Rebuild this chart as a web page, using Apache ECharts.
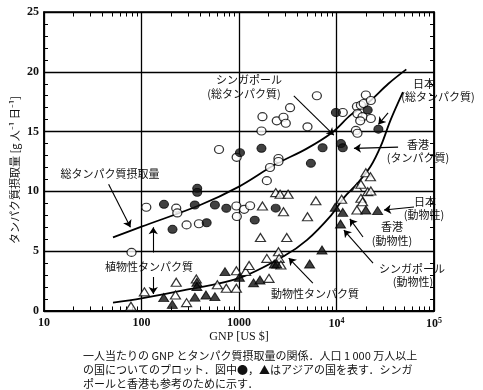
<!DOCTYPE html>
<html><head><meta charset="utf-8">
<script src="https://cdn.jsdelivr.net/npm/echarts@6/dist/echarts.min.js"></script>
<style>html,body{margin:0;padding:0;background:#fff}#c{width:483px;height:390px}</style>
</head><body><div id="c"></div>
<script>
// GNP [US$] vs protein intake [g/person/day]
const openCircles = [[79,4.9],[112,8.67],[227,8.6],[233,8.2],[290,7.2],[388,7.3],[624,13.5],[940,8.78],[950,7.9],[946,12.85],[1130,8.5],[1300,8.8],[1700,15.05],[1740,16.25],[1930,10.9],[2080,12.0],[2440,15.9],[2540,12.75],[2540,12.5],[2860,16.2],[3020,15.7],[3340,17.0],[5040,15.4],[6290,18.0],[11600,16.6],[15800,15.1],[16400,14.86],[16200,17.1],[17800,17.2],[19000,17.35],[20000,18.06],[22500,17.6],[16400,16.5],[18500,16.25],[22500,16.1],[17500,15.9]];
const filledCircles = [[170,8.92],[208,6.83],[352,8.86],[373,10.26],[373,9.92],[466,7.38],[566,8.86],[741,8.59],[1023,13.24],[1450,7.6],[1700,13.6],[2380,8.6],[5460,12.35],[7200,13.65],[9860,16.6],[11100,14.0],[11600,13.65],[20900,16.8],[26900,15.2]];
const openTriangles = [[78,0.4],[107,1.6],[223,1.34],[227,2.4],[290,0.7],[365,2.68],[600,2.2],[741,1.9],[940,3.37],[940,1.9],[1170,3.3],[1270,3.8],[1660,6.15],[1740,8.78],[1930,4.4],[2030,2.73],[2380,9.9],[2540,4.96],[2580,4.4],[2640,9.76],[2690,3.85],[2860,8.3],[3090,6.15],[3190,9.76],[5040,7.88],[6140,9.22],[11300,9.35],[16200,8.44],[16200,10.34],[17800,10.6],[17800,9.42],[18500,9.14],[20000,11.56],[20900,9.98],[22300,11.23],[22500,10.03]];
const filledTriangles = [[169,1.12],[207,0.55],[353,1.16],[370,2.4],[370,2.05],[458,1.34],[566,1.2],[718,3.29],[1010,2.82],[1410,2.35],[1640,2.59],[2300,3.93],[2440,3.93],[5300,3.93],[7100,5.1],[9700,8.68],[11600,8.25],[11000,7.27],[20000,8.44],[26400,8.39]];
const totalCurve = [[51,6.15],[100,7.05],[400,8.86],[1000,10.4],[2300,12.2],[5000,13.6],[9100,14.95],[14000,16.4],[21000,17.4],[34000,19.0],[52000,20.2]];
const animalCurve = [[51,0.7],[100,1.05],[300,1.8],[1000,2.75],[2900,4.6],[5000,5.95],[8800,8.0],[12000,9.5],[16500,10.7],[22400,12.1],[28500,13.8],[36000,16.0],[48000,18.3]];
const xTicks = [10,100,1000,10000,100000];
const yTicks = [0,5,10,15,20,25];
// annotation arrows, in data coordinates [GNP, intake]
const arrows = [
  [[3650,17.98],[9400,14.7]],
  [[33800,16.56],[26900,15.6]],
  [[42800,13.7],[15100,13.6]],
  [[46,10.6],[77,7.0]],
  [[132,4.9],[132,7.0]],
  [[132,2.84],[132,1.42]],
  [[5720,2.34],[3240,4.43]],
  [[62400,8.7],[30700,8.45]],
  [[18700,6.19],[13700,7.7]],
  [[23700,4.0],[11900,6.77]]
];

const minorX = [];
[10,100,1000,10000].forEach(d => { for (let k=2;k<=9;k++) minorX.push(k*d); });
const tickSegs = [];
minorX.forEach(v => { tickSegs.push({coords:[[v,0],[v,0.38]]}); tickSegs.push({coords:[[v,25],[v,24.62]]}); });

const JP = '"Noto Sans CJK JP", sans-serif';
const SERIF = '"Liberation Serif", "DejaVu Serif", serif';
const sup = {'4':'⁴','5':'⁵'};

function txt(x,y,s,extra){ return Object.assign({type:'text', x:x, y:y, style:{text:s, font:'11px '+JP, fill:'#111', textAlign:'center', textVerticalAlign:'middle'}}, extra||{}); }

const chart = echarts.init(document.getElementById('c'), null, {renderer:'canvas'});
const axisCommon = {
  axisLine:{show:true, lineStyle:{color:'#000', width:1.5}},
};
chart.setOption({
  animation:false,
  backgroundColor:'#fff',
  grid:{left:44, right:49, top:12, bottom:79, show:true, borderColor:'#000', borderWidth:1.5},
  xAxis:[{
    type:'log', logBase:10, min:10, max:100000, position:'bottom',
    axisLine:{show:true, lineStyle:{color:'#000', width:1.5}},
    axisTick:{show:false},
    splitLine:{show:true, lineStyle:{color:'#000', width:1.3}},
    axisLabel:{margin:6, color:'#111', fontFamily:SERIF, fontSize:12, fontWeight:'bold',
      formatter: v => { const e = Math.round(Math.log10(v)); return e<=3 ? String(xTicks[e-1]) : '{b|10}{s|'+e+'}'; },
      rich:{b:{fontFamily:SERIF,fontSize:12,fontWeight:'bold',color:'#111'}, s:{fontFamily:SERIF,fontSize:8,fontWeight:'bold',color:'#111',verticalAlign:'top',padding:[0,0,6,0]}}
    }
  },{
    type:'log', logBase:10, min:10, max:100000, position:'top',
    axisLine:{show:true, lineStyle:{color:'#000', width:1.5}},
    axisTick:{show:false}, axisLabel:{show:false}, splitLine:{show:false}
  }],
  yAxis:[{
    type:'value', min:0, max:25, interval:5, position:'left',
    axisLine:{show:true, lineStyle:{color:'#000', width:1.5}},
    axisTick:{show:true, inside:true, length:5, lineStyle:{color:'#000'}},
    minorTick:{show:true, splitNumber:5, length:4, lineStyle:{color:'#000', width:1}},
    splitLine:{show:true, lineStyle:{color:'#000', width:1.3}},
    axisLabel:{margin:5, color:'#111', fontFamily:SERIF, fontSize:12, fontWeight:'bold'}
  },{
    type:'value', min:0, max:25, interval:5, position:'right',
    axisLine:{show:true, lineStyle:{color:'#000', width:1.5}},
    axisTick:{show:true, inside:true, length:5, lineStyle:{color:'#000'}},
    minorTick:{show:true, splitNumber:5, length:4, lineStyle:{color:'#000', width:1}},
    splitLine:{show:false}, axisLabel:{show:false}
  }],
  series:[
    {type:'lines', coordinateSystem:'cartesian2d', xAxisIndex:0, yAxisIndex:0, data:tickSegs, symbol:'none', lineStyle:{color:'#000', width:1, opacity:1}, z:3, silent:true},
    {type:'line', data:totalCurve, smooth:0.35, showSymbol:false, lineStyle:{color:'#000', width:1.8}, z:2},
    {type:'line', data:animalCurve, smooth:0.35, showSymbol:false, lineStyle:{color:'#000', width:1.8}, z:2},
    {type:'lines', coordinateSystem:'cartesian2d', data:arrows.map(a=>({coords:a})), symbol:['none','arrow'], symbolSize:[0,7], lineStyle:{color:'#000', width:1.1, opacity:1}, z:4},
    {type:'scatter', data:openCircles, symbol:'circle', symbolSize:[9,8], itemStyle:{color:'#fff', borderColor:'#000', borderWidth:1.2}, z:5},
    {type:'scatter', data:filledCircles, symbol:'circle', symbolSize:[9,8], itemStyle:{color:'#111', borderColor:'#000', borderWidth:1}, z:5},
    {type:'scatter', data:openTriangles, symbol:'triangle', symbolSize:[10,8], itemStyle:{color:'#fff', borderColor:'#000', borderWidth:1.2}, z:5},
    {type:'scatter', data:filledTriangles, symbol:'triangle', symbolSize:[10,8], itemStyle:{color:'#111', borderColor:'#000', borderWidth:1}, z:5}
  ],
  graphic:[
    txt(15,170,'タンパク質摂取量 [g 人⁻¹ 日⁻¹]', {rotation:Math.PI/2, style:{text:'タンパク質摂取量 [g 人⁻¹ 日⁻¹]', font:'11px '+JP, fill:'#111', textAlign:'center', textVerticalAlign:'middle'}}),
    txt(239,337,'GNP [US $]', {style:{text:'GNP [US $]', font:'12px '+SERIF, fill:'#111', textAlign:'center', textVerticalAlign:'middle'}}),
    txt(249,80,'シンガポール'),
    txt(244,94,'(総タンパク質)'),
    txt(424,84,'日本'),
    txt(438,97,'(総タンパク質)'),
    txt(418,145,'香港'),
    txt(418,158,'(タンパク質)'),
    txt(110,174,'総タンパク質摂取量'),
    txt(149,267,'植物性タンパク質'),
    txt(315,294,'動物性タンパク質'),
    txt(425,202,'日本'),
    txt(424,215,'(動物性)'),
    txt(392,227,'香港'),
    txt(392,241,'(動物性)'),
    txt(412,269,'シンガポール'),
    txt(413,282,'(動物性)'),
    {type:'text', x:83, y:356, style:{text:'一人当たりの GNP とタンパク質摂取量の関係．人口 1 000 万人以上', font:'11px '+JP, fill:'#111', textAlign:'left', textVerticalAlign:'middle'}},
    {type:'text', x:83, y:370, style:{text:'の国についてのプロット．図中●，▲はアジアの国を表す．シンガ', font:'11px '+JP, fill:'#111', textAlign:'left', textVerticalAlign:'middle'}},
    {type:'text', x:83, y:384, style:{text:'ポールと香港も参考のために示す．', font:'11px '+JP, fill:'#111', textAlign:'left', textVerticalAlign:'middle'}}
  ]
});
</script></body></html>
